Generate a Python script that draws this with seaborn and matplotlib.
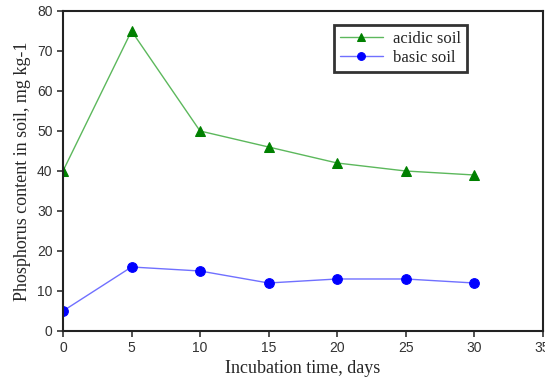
import pandas as pd
import seaborn as sns
import matplotlib.pyplot as plt

# data
days = [0, 5, 10, 15, 20, 25, 30]
acidic = [40, 75, 50, 46, 42, 40, 39]
basic = [5, 16, 15, 12, 13, 13, 12]

df = pd.DataFrame({'days': days * 2,
                   'value': acidic + basic,
                   'soil': ['acidic soil'] * len(days) + ['basic soil'] * len(days)})

sns.set_style('ticks')
plt.rcParams['font.family'] = ['Liberation Sans', 'DejaVu Sans']

fig = plt.figure(figsize=(5.45, 3.83), dpi=100)
ax = fig.add_axes([0.1156, 0.1358, 0.880, 0.8355])

styles = {'acidic soil': ('#5cb85c', '#008000', '^'),
          'basic soil': ('#7070ff', '#0000ff', 'o')}
for name, (lc, mc, mk) in styles.items():
    sub = df[df['soil'] == name]
    sns.lineplot(data=sub, x='days', y='value', ax=ax, color=lc, lw=1,
                 marker=mk, markersize=7, markerfacecolor=mc,
                 markeredgecolor=mc, label=name)

ax.set_xlim(0, 35)
ax.set_ylim(0, 80)
ax.set_xticks(range(0, 36, 5))
ax.set_yticks(range(0, 81, 10))
ax.tick_params(labelsize=10, colors='#333333', length=4, width=1.2, direction='out')
for s in ax.spines.values():
    s.set_color('#222222')
    s.set_linewidth(1.5)

serif = {'family': 'Liberation Serif', 'size': 13}
ax.set_xlabel('Incubation time, days', fontdict=serif, labelpad=3)
ax.set_ylabel('Phosphorus content in soil, mg kg-1', fontdict=serif, labelpad=4)

leg = ax.legend(loc='upper left', bbox_to_anchor=(0.565, 0.955), fancybox=False,
                prop={'family': 'Liberation Serif', 'size': 12},
                handlelength=2.6, handletextpad=0.6, borderpad=0.35,
                labelspacing=0.15, borderaxespad=0, markerscale=0.8)
leg.get_frame().set_edgecolor('black')
leg.get_frame().set_linewidth(2)

fig.savefig('out.png', dpi=100)
